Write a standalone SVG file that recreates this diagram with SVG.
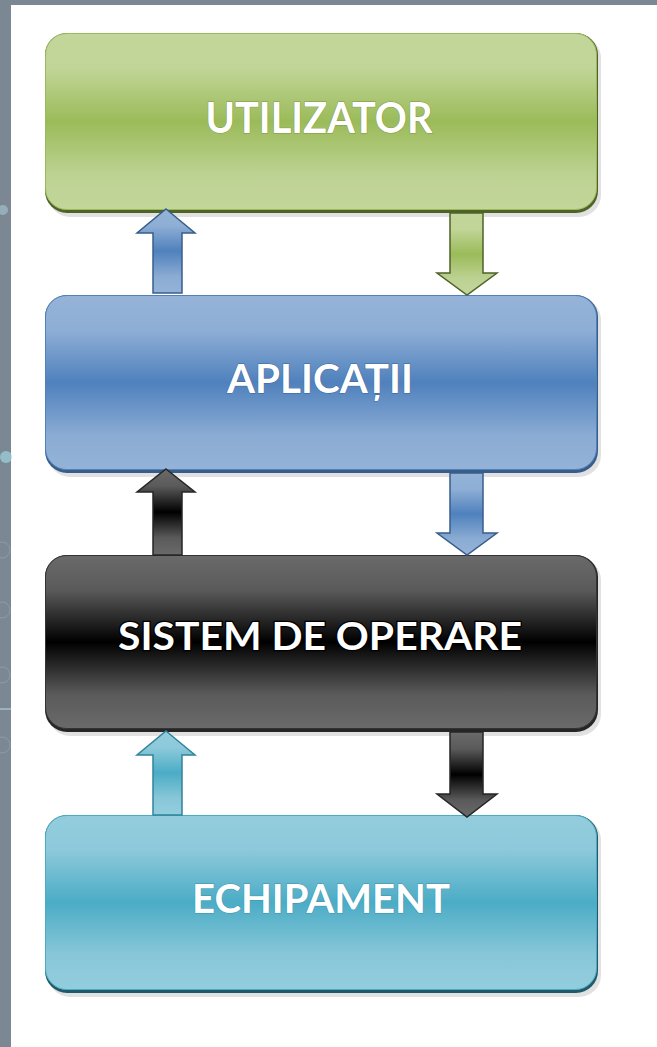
<svg xmlns="http://www.w3.org/2000/svg" width="657" height="1047" viewBox="0 0 657 1047">
<defs>
<linearGradient id="gGreen" x1="0" y1="0" x2="0" y2="1">
<stop offset="0" stop-color="#c3d69b"/><stop offset="0.2" stop-color="#c0d597"/><stop offset="0.5" stop-color="#9bbb59"/><stop offset="0.8" stop-color="#bcd292"/><stop offset="1" stop-color="#c3d69b"/>
</linearGradient>
<linearGradient id="gBlue" x1="0" y1="0" x2="0" y2="1">
<stop offset="0" stop-color="#95b3d7"/><stop offset="0.2" stop-color="#8eaed5"/><stop offset="0.5" stop-color="#4f81bd"/><stop offset="0.8" stop-color="#8aabd3"/><stop offset="1" stop-color="#95b3d7"/>
</linearGradient>
<linearGradient id="gBlack" x1="0" y1="0" x2="0" y2="1">
<stop offset="0" stop-color="#6a6a6a"/><stop offset="0.2" stop-color="#5a5a5a"/><stop offset="0.5" stop-color="#000000"/><stop offset="0.8" stop-color="#5a5a5a"/><stop offset="1" stop-color="#6a6a6a"/>
</linearGradient>
<linearGradient id="gTeal" x1="0" y1="0" x2="0" y2="1">
<stop offset="0" stop-color="#93cddd"/><stop offset="0.2" stop-color="#8cc9da"/><stop offset="0.5" stop-color="#4bacc6"/><stop offset="0.8" stop-color="#88c7d8"/><stop offset="1" stop-color="#93cddd"/>
</linearGradient>
</defs>
<style>
.shadow{fill:#d4d4d4;opacity:0.7}
.lbl{font-family:"Lato","Liberation Sans",sans-serif;font-weight:bold;fill:#ffffff;text-anchor:middle}
.lblg{stroke:#7f9a45;stroke-width:1;paint-order:stroke}
.lblb{stroke:#3c6496;stroke-width:1;paint-order:stroke}
.lblk{stroke:#000000;stroke-width:2.5;paint-order:stroke}
.lblt{stroke:#3a94ad;stroke-width:1;paint-order:stroke}
</style>
<rect x="0" y="0" width="657" height="1047" fill="#ffffff"/>
<g id="frame">
<rect x="0" y="0" width="657" height="5" fill="#7b8894"/>
<rect x="0" y="0" width="11" height="1047" fill="#7b8894"/>
<circle cx="3" cy="210" r="5" fill="#a9c6d4" opacity="0.6"/>
<circle cx="6" cy="457" r="6" fill="#9fd4e0" opacity="0.7"/>
<circle cx="2" cy="550" r="8" fill="none" stroke="#8e9ba6" stroke-width="1"/>
<circle cx="2" cy="610" r="8" fill="none" stroke="#8e9ba6" stroke-width="1"/>
<circle cx="2" cy="675" r="8" fill="none" stroke="#8e9ba6" stroke-width="1"/>
<circle cx="2" cy="745" r="8" fill="none" stroke="#8e9ba6" stroke-width="1"/>
<rect x="0" y="708" width="11" height="2" fill="#a9c6d4" opacity="0.7"/>
</g>
<g id="utilizator">
<rect class="shadow" x="48" y="36" width="553" height="181" rx="22"/>
<rect x="45" y="33" width="553" height="180" rx="22" fill="#4f6228"/>
<rect x="45.5" y="33.5" width="551" height="176" rx="21" fill="url(#gGreen)" stroke="#9bbb59" stroke-width="1"/>
<text class="lbl lblg" x="319" y="133" font-size="42" textLength="227" lengthAdjust="spacingAndGlyphs">UTILIZATOR</text>
</g>
<g id="aplicatii">
<rect class="shadow" x="48" y="298" width="553" height="179" rx="22"/>
<rect x="45" y="295" width="553" height="178" rx="22" fill="#385d8a"/>
<rect x="45.5" y="295.5" width="551" height="174" rx="21" fill="url(#gBlue)" stroke="#4f81bd" stroke-width="1"/>
<text class="lbl lblb" x="320" y="393" font-size="41" textLength="186" lengthAdjust="spacingAndGlyphs">APLICAȚII</text>
</g>
<g id="sistem">
<rect class="shadow" x="48" y="558" width="553" height="178" rx="22"/>
<rect x="45" y="555" width="553" height="177" rx="22" fill="#262626"/>
<rect x="45.5" y="555.5" width="551" height="173" rx="21" fill="url(#gBlack)" stroke="#333333" stroke-width="1"/>
<text class="lbl lblk" x="320" y="650" font-size="38" textLength="404" lengthAdjust="spacingAndGlyphs">SISTEM DE OPERARE</text>
</g>
<g id="echipament">
<rect class="shadow" x="48" y="818" width="553" height="179" rx="22"/>
<rect x="45" y="815" width="553" height="178" rx="22" fill="#215968"/>
<rect x="45.5" y="815.5" width="551" height="174" rx="21" fill="url(#gTeal)" stroke="#4bacc6" stroke-width="1"/>
<text class="lbl lblt" x="321" y="913" font-size="41" textLength="258" lengthAdjust="spacingAndGlyphs">ECHIPAMENT</text>
</g>
<g id="connectors" stroke-width="1.5" stroke-linejoin="miter">
<path d="M166,209 L195,233 L182,233 L182,293 L153,293 L153,233 L137,233 Z" fill="url(#gBlue)" stroke="#385d8a"/>
<path d="M450,213 L483,213 L483,273 L497,273 L467,295 L437,273 L450,273 Z" fill="url(#gGreen)" stroke="#4f6228"/>
<path d="M166,469 L195,492 L182,492 L182,555 L153,555 L153,492 L137,492 Z" fill="url(#gBlack)" stroke="#262626"/>
<path d="M450,473 L483,473 L483,533 L497,533 L467,555 L437,533 L450,533 Z" fill="url(#gBlue)" stroke="#385d8a"/>
<path d="M166,731 L195,755 L182,755 L182,815 L153,815 L153,755 L137,755 Z" fill="url(#gTeal)" stroke="#31849b"/>
<path d="M450,732 L483,732 L483,794 L497,794 L467,817 L437,794 L450,794 Z" fill="url(#gBlack)" stroke="#262626"/>
</g>
</svg>
